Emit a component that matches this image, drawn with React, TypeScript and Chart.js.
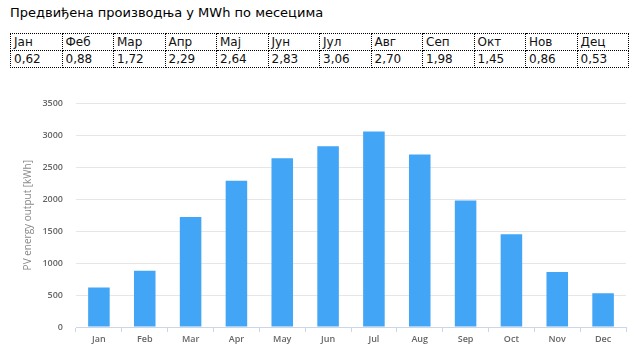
import React, { useEffect, useRef } from "react";
import { Chart, registerables } from "chart.js";

Chart.register(...registerables);

const TITLE = "Предвиђена производња у MWh по месецима";
const TABLE_MONTHS = ["Јан", "Феб", "Мар", "Апр", "Мај", "Јун", "Јул", "Авг", "Сеп", "Окт", "Нов", "Дец"];
const TABLE_VALUES = ["0,62", "0,88", "1,72", "2,29", "2,64", "2,83", "3,06", "2,70", "1,98", "1,45", "0,86", "0,53"];
const CATEGORIES = ["Jan", "Feb", "Mar", "Apr", "May", "Jun", "Jul", "Aug", "Sep", "Oct", "Nov", "Dec"];
const PV_OUTPUT = [620, 880, 1720, 2290, 2640, 2830, 3060, 2700, 1980, 1450, 860, 530];
const Y_TITLE = "PV energy output [kWh]";

export default function App() {
  const ref = useRef<HTMLCanvasElement>(null);

  useEffect(() => {
    if (!ref.current) return;
    const chart = new Chart(ref.current, {
      type: "bar",
      data: {
        labels: CATEGORIES,
        datasets: [
          {
            data: PV_OUTPUT,
            backgroundColor: "#42a5f5",
            borderWidth: 0,
            categoryPercentage: 1,
            barPercentage: 0.47,
          },
        ],
      },
      options: {
        animation: false,
        responsive: false,
        maintainAspectRatio: false,
        layout: { padding: { left: 0, right: 18, top: 17, bottom: 0 } },
        plugins: { legend: { display: false }, tooltip: { enabled: false } },
        scales: {
          x: {
            offset: true,
            grid: {
              display: true,
              drawOnChartArea: false,
              drawTicks: true,
              tickLength: 5,
              color: "#ccd6eb",
              offset: true,
            },
            border: { display: true, color: "#ccd6eb", width: 1 },
            ticks: {
              color: "#666",
              padding: 2,
              font: { family: "'Open Sans'", size: 9, weight: 600 },
              maxRotation: 0,
            },
            afterFit: (s: any) => {
              s.height = 30;
            },
          },
          y: {
            min: 0,
            max: 3500,
            ticks: {
              stepSize: 500,
              color: "#666",
              padding: 13,
              font: { family: "'Open Sans'", size: 9, weight: 600 },
              callback: (v: any) => String(v),
            },
            grid: { color: "#e6e6e6", drawTicks: false, lineWidth: 1 },
            border: { display: false },
            title: {
              display: true,
              text: Y_TITLE,
              color: "#888",
              font: { family: "'Open Sans'", size: 10, weight: 400 },
              padding: { top: 22, bottom: 0 },
            },
            afterFit: (s: any) => {
              s.width = 76;
            },
          },
        },
      },
    });
    return () => chart.destroy();
  }, []);

  const cell: React.CSSProperties = {
    border: "1px dotted #000",
    padding: "0 3px",
    height: 16,
    textAlign: "left",
    whiteSpace: "nowrap",
  };

  return (
    <div
      style={{
        position: "absolute",
        left: 0,
        top: 0,
        width: 644,
        height: 357,
        background: "#fff",
        fontFamily: "'DejaVu Sans', Verdana, sans-serif",
        fontSize: 12,
        color: "#000",
        overflow: "hidden",
      }}
    >
      <div style={{ position: "absolute", left: 10, top: 5, whiteSpace: "nowrap", fontSize: 13 }}>{TITLE}</div>
      <table
        style={{
          position: "absolute",
          left: 10,
          top: 33,
          width: 619,
          borderCollapse: "collapse",
          tableLayout: "fixed",
          fontSize: 12,
          lineHeight: "15px",
          color: "#111",
        }}
      >
        <tbody>
          <tr>
            {TABLE_MONTHS.map((m) => (
              <td key={m} style={cell}>
                {m}
              </td>
            ))}
          </tr>
          <tr>
            {TABLE_VALUES.map((v, i) => (
              <td key={i} style={cell}>
                {v}
              </td>
            ))}
          </tr>
        </tbody>
      </table>
      <canvas
        ref={ref}
        width={644}
        height={272}
        style={{ position: "absolute", left: 0, top: 85, width: 644, height: 272 }}
      />
    </div>
  );
}
